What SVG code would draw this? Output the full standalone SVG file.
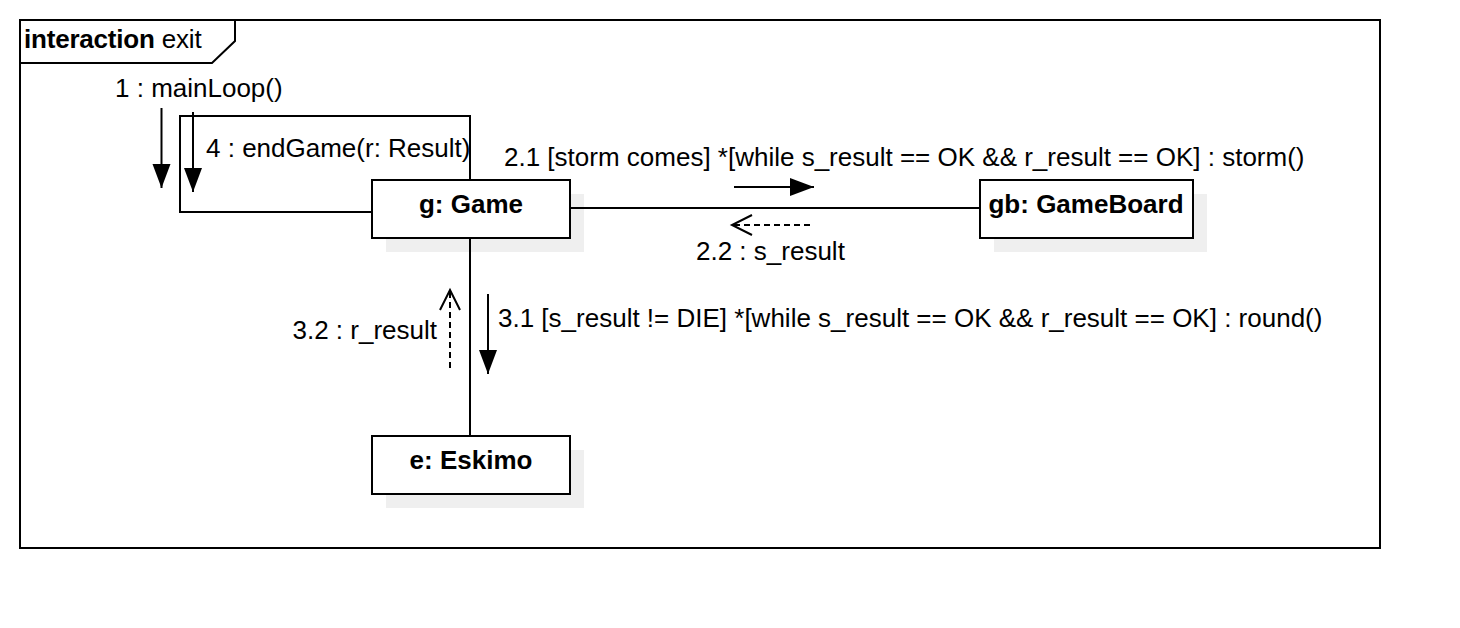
<svg xmlns="http://www.w3.org/2000/svg" width="1460" height="628" viewBox="0 0 1460 628">
<style>
text{font-family:"Liberation Sans",Arial,sans-serif;font-size:26px;fill:#000}
.b{font-weight:bold}
.ln{fill:none;stroke:#000;stroke-width:2}
.dash{fill:none;stroke:#000;stroke-width:2;stroke-dasharray:6,4}
.box{fill:#fff;stroke:#000;stroke-width:2}
.sh{fill:#efefef}
</style>
<defs>
<marker id="fill" markerUnits="userSpaceOnUse" markerWidth="26" markerHeight="20" refX="24" refY="9" orient="auto" overflow="visible">
<path d="M0,0 L24,9 L0,18 z" fill="#000"/>
</marker>
<marker id="open" markerUnits="userSpaceOnUse" markerWidth="22" markerHeight="22" refX="20" refY="10" orient="auto" overflow="visible">
<path d="M0,0 L20,10 L0,20" fill="none" stroke="#000" stroke-width="2"/>
</marker>
</defs>
<rect x="0" y="0" width="1460" height="628" fill="#fff"/>
<g id="frame">
<rect x="20" y="20" width="1360" height="528" class="ln"/>
<polyline points="20,63 212,63 235,41 235,20" class="ln"/>
<text x="24" y="48" letter-spacing="-0.2"><tspan class="b">interaction</tspan> exit</text>
</g>
<g id="game">
<rect x="386" y="194" width="198" height="58" class="sh"/>
<rect x="372" y="180" width="198" height="58" class="box"/>
<text x="471" y="213" text-anchor="middle" class="b">g: Game</text>
</g>
<g id="gameboard">
<rect x="994" y="194" width="213" height="58" class="sh"/>
<rect x="980" y="180" width="213" height="58" class="box"/>
<text x="1086" y="213" text-anchor="middle" class="b">gb: GameBoard</text>
</g>
<g id="eskimo">
<rect x="386" y="450" width="198" height="58" class="sh"/>
<rect x="372" y="436" width="198" height="58" class="box"/>
<text x="471" y="469" text-anchor="middle" class="b">e: Eskimo</text>
</g>
<g id="connectors">
<polyline points="372,212 180,212 180,116 470,116 470,180" class="ln"/>
<line x1="570" y1="208" x2="980" y2="208" class="ln"/>
<line x1="470" y1="238" x2="470" y2="436" class="ln"/>
<line x1="161.5" y1="108" x2="161.5" y2="188" class="ln" marker-end="url(#fill)"/>
<line x1="193" y1="112" x2="193" y2="192" class="ln" marker-end="url(#fill)"/>
<line x1="734" y1="187" x2="814" y2="187" class="ln" marker-end="url(#fill)"/>
<line x1="810" y1="225" x2="732" y2="225" class="dash" marker-end="url(#open)"/>
<line x1="488" y1="294" x2="488" y2="374" class="ln" marker-end="url(#fill)"/>
<line x1="450" y1="368" x2="450" y2="290" class="dash" marker-end="url(#open)"/>
<text x="115" y="97">1 : mainLoop()</text>
<text x="206" y="157">4 : endGame(r: Result)</text>
<text x="504" y="166">2.1 [storm comes] *[while s_result == OK &amp;&amp; r_result == OK] : storm()</text>
<text x="696" y="260">2.2 : s_result</text>
<text x="437" y="339" text-anchor="end">3.2 : r_result</text>
<text x="498" y="327">3.1 [s_result != DIE] *[while s_result == OK &amp;&amp; r_result == OK] : round()</text>
</g>
</svg>
